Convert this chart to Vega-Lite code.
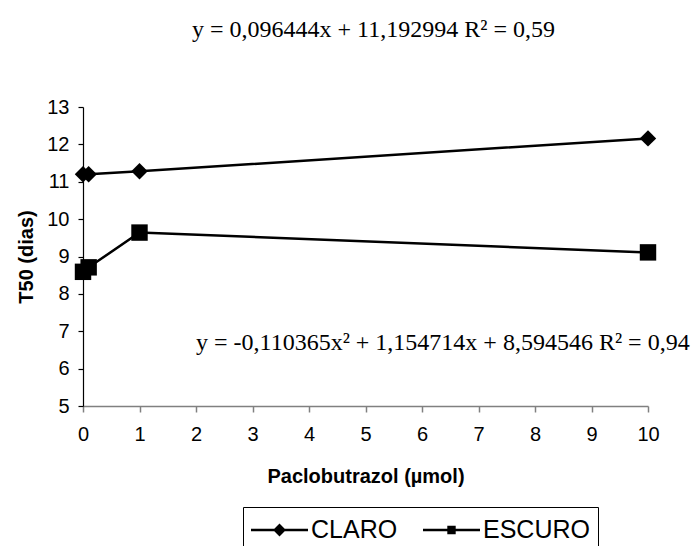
{
  "$schema": "https://vega.github.io/schema/vega-lite/v6.json",
  "width": 565,
  "height": 299,
  "autosize": "none",
  "padding": {"left": 83, "top": 107, "right": 43, "bottom": 140},
  "background": "white",
  "config": {"view": {"stroke": null}, "font": "Liberation Sans"},
  "title": {
    "text": "y = 0,096444x + 11,192994 R² = 0,59",
    "font": "Liberation Serif",
    "fontSize": 24,
    "fontWeight": "normal",
    "color": "black",
    "anchor": "middle",
    "frame": "group",
    "baseline": "alphabetic",
    "offset": 36,
    "dx": 8
  },
  "data": {
    "values": [
      {"x": 0, "y": 11.2, "serie": "CLARO"},
      {"x": 0.1, "y": 11.2, "serie": "CLARO"},
      {"x": 1, "y": 11.28, "serie": "CLARO"},
      {"x": 10, "y": 12.16, "serie": "CLARO"},
      {"x": 0, "y": 8.59, "serie": "ESCURO"},
      {"x": 0.1, "y": 8.71, "serie": "ESCURO"},
      {"x": 1, "y": 9.64, "serie": "ESCURO"},
      {"x": 10, "y": 9.11, "serie": "ESCURO"}
    ]
  },
  "encoding": {
    "x": {
      "field": "x",
      "type": "quantitative",
      "scale": {"domain": [0, 10], "nice": false, "zero": false},
      "axis": {
        "title": "Paclobutrazol (µmol)",
        "values": [0, 1, 2, 3, 4, 5, 6, 7, 8, 9, 10],
        "grid": false,
        "domainColor": "#808080",
        "domainWidth": 1.5,
        "tickColor": "#808080",
        "tickWidth": 1.5,
        "tickSize": 6,
        "labelFontSize": 20,
        "labelColor": "black",
        "labelPadding": 12,
        "labelFlush": false,
        "titleFontSize": 20,
        "titleFontWeight": "bold",
        "titleColor": "black",
        "titlePadding": 22
      }
    },
    "y": {
      "field": "y",
      "type": "quantitative",
      "scale": {"domain": [5, 13], "nice": false, "zero": false},
      "axis": {
        "title": "T50 (dias)",
        "values": [5, 6, 7, 8, 9, 10, 11, 12, 13],
        "grid": false,
        "domainColor": "black",
        "domainWidth": 1.2,
        "tickColor": "black",
        "tickWidth": 1.2,
        "tickSize": 5,
        "labelFontSize": 20,
        "labelColor": "black",
        "labelPadding": 9,
        "labelFlush": false,
        "titleFontSize": 20,
        "titleFontWeight": "bold",
        "titleColor": "black",
        "titlePadding": 10
      }
    }
  },
  "resolve": {"scale": {"shape": "independent"}},
  "layer": [
    {
      "mark": {"type": "line", "color": "black", "strokeWidth": 2.5},
      "encoding": {"detail": {"field": "serie", "type": "nominal"}}
    },
    {
      "mark": {"type": "point", "filled": true, "color": "black", "opacity": 1, "size": 270},
      "encoding": {
        "shape": {
          "field": "serie",
          "type": "nominal",
          "scale": {"domain": ["CLARO", "ESCURO"], "range": ["diamond", "square"]},
          "legend": null
        }
      }
    },
    {
      "transform": [{"filter": "datum.x < 0"}],
      "mark": {"type": "point", "filled": true, "color": "black", "opacity": 1},
      "encoding": {
        "shape": {
          "field": "serie",
          "type": "nominal",
          "scale": {
            "domain": ["CLARO", "ESCURO"],
            "range": [
              "M-1,-0.08L2.8,-0.08L2.8,0.08L-1,0.08ZM0.9,-0.43L1.33,0L0.9,0.43L0.47,0Z",
              "M-1,-0.08L2.8,-0.08L2.8,0.08L-1,0.08ZM0.62,-0.28L1.18,-0.28L1.18,0.28L0.62,0.28Z"
            ]
          },
          "legend": {
            "title": null,
            "orient": "none",
            "legendX": 160,
            "legendY": 400,
            "direction": "horizontal",
            "strokeColor": "black",
            "fillColor": "white",
            "padding": 8,
            "symbolSize": 900,
            "symbolFillColor": "black",
            "symbolStrokeColor": "black",
            "symbolStrokeWidth": 0,
            "symbolOpacity": 1,
            "labelFontSize": 25,
            "labelColor": "black",
            "labelOffset": 30,
            "columnPadding": 25
          }
        }
      }
    },
    {
      "data": {"values": [{"x": 2.0, "y": 6.5, "label": "y = -0,110365x² + 1,154714x + 8,594546 R² = 0,94"}]},
      "mark": {"type": "text", "font": "Liberation Serif", "fontSize": 24, "align": "left", "baseline": "alphabetic", "color": "black"},
      "encoding": {"text": {"field": "label"}}
    }
  ]
}
